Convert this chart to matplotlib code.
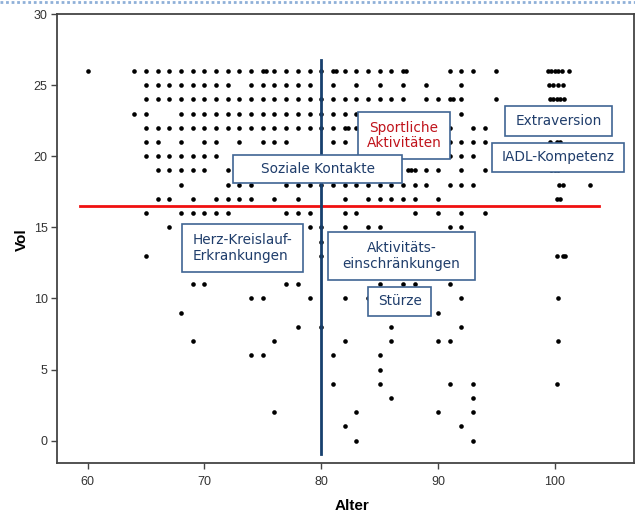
import matplotlib
matplotlib.use("Agg")
import matplotlib.pyplot as plt
from matplotlib.patches import Rectangle
from matplotlib.lines import Line2D

# Alter-Werte je Vol-Zeile
alter_v26 = [60, 64, 65, 66, 67, 68, 69, 70, 71, 72, 73, 74, 75, 75.3, 76, 77, 78, 79, 80, 81, 81.3,
             82, 83, 84, 85, 86, 87, 87.3, 91, 92, 93, 95, 99.4, 99.7, 100.0, 100.3, 100.6, 101.2]
alter_v25 = [65, 66, 67, 68, 69, 70, 71, 72, 74, 75, 76, 77, 78, 79, 81, 83, 85, 87, 89, 92,
             99.5, 99.9, 100.3, 100.7]
alter_v24 = [65, 66, 67, 68, 69, 70, 71, 72, 73, 74, 75, 76, 77, 78, 79, 80, 81, 82, 83, 84, 85, 86, 87,
             89, 90, 91, 91.3, 92, 95, 99.6, 99.9, 100.2, 100.5, 100.8]
alter_v23 = [64, 65, 68, 69, 70, 71, 72, 73, 74, 75, 76, 77, 78, 79, 80, 81, 82, 83, 92]
alter_v22 = [65, 66, 67, 68, 69, 70, 71, 72, 73, 74, 75, 76, 77, 78, 79, 80, 81, 82, 82.3, 83, 91, 93, 94]
alter_v21 = [65, 66, 68, 70, 71, 73, 75, 76, 77, 81, 82, 91, 92, 93, 94, 99.6, 100.2, 100.5]
alter_v20 = [65, 66, 67, 68, 69, 70, 71, 91, 92, 93]
alter_v19 = [66, 67, 68, 69, 70, 72, 87.4, 87.7, 88, 89, 90, 92, 94, 99.7, 100, 100.3]
alter_v18 = [68, 72, 73, 74, 77, 78, 79, 80, 81, 82, 83, 84, 85, 86, 87, 88, 89, 91, 92, 93,
             100.4, 100.7, 103]
alter_v17 = [66, 67, 69, 71, 72, 73, 74, 76, 78, 82, 84, 85, 86, 87, 88, 90, 100.2, 100.5]
alter_v16 = [65, 68, 69, 70, 71, 72, 77, 78, 79, 82, 83, 88, 90, 92, 94]
alter_v15 = [67, 79, 80, 82, 84, 85, 91, 92]
alter_v14 = [80]
alter_v13 = [65, 80, 100.2, 100.7, 100.9]
alter_v11 = [69, 70, 77, 78, 85, 87, 88, 91]
alter_v10 = [74, 75, 79, 82, 84, 92, 100.3]
alter_v9 = [68, 90]
alter_v8 = [78, 80, 86, 92]
alter_v7 = [69, 76, 82, 86, 90, 91, 100.3]
alter_v6 = [74, 75, 81, 85]
alter_v5 = [85]
alter_v4 = [81, 85, 91, 93, 100.2]
alter_v3 = [86, 93]
alter_v2 = [76, 83, 90, 93]
alter_v1 = [82, 92]
alter_v0 = [83, 93]

zeilen = {26: alter_v26, 25: alter_v25, 24: alter_v24, 23: alter_v23, 22: alter_v22,
          21: alter_v21, 20: alter_v20, 19: alter_v19, 18: alter_v18, 17: alter_v17,
          16: alter_v16, 15: alter_v15, 14: alter_v14, 13: alter_v13, 11: alter_v11,
          10: alter_v10, 9: alter_v9, 8: alter_v8, 7: alter_v7, 6: alter_v6, 5: alter_v5,
          4: alter_v4, 3: alter_v3, 2: alter_v2, 1: alter_v1, 0: alter_v0}

alter = []
vol = []
for v, ages in zeilen.items():
    alter += ages
    vol += [v] * len(ages)

mittel_vol = 16.5
mittel_alter = 80

# Kästchen: Text, Mitte (Alter, Vol), Breite, Höhe, Farbe, Ausrichtung
kaesten = [
    ("Sportliche\nAktivitäten", 87.1, 21.46, 7.9, 3.3, "#c0141c", "center"),
    ("Extraversion", 100.34, 22.48, 9.2, 2.07, "#1f3d6b", "center"),
    ("IADL-Kompetenz", 100.3, 19.92, 11.3, 2.04, "#1f3d6b", "center"),
    ("Soziale Kontakte", 79.69, 19.1, 14.5, 1.97, "#1f3d6b", "center"),
    ("Herz-Kreislauf-\nErkrankungen", 73.26, 13.55, 10.4, 3.38, "#1f3d6b", "left"),
    ("Aktivitäts-\neinschränkungen", 86.89, 12.99, 12.6, 3.38, "#1f3d6b", "center"),
    ("Stürze", 86.72, 9.79, 5.4, 2.04, "#1f3d6b", "center"),
]

fig = plt.figure(figsize=(6.35, 5.15), dpi=100)
ax = fig.add_axes([0.0904, 0.1004, 0.908, 0.8724])

ax.scatter(alter, vol, s=11, color="black", linewidths=0, zorder=2)

ax.plot([59.3, 103.8], [mittel_vol, mittel_vol], color="#f01010", lw=2, zorder=3)
ax.plot([mittel_alter, mittel_alter], [-0.93, 26.8], color="#17406e", lw=2, zorder=3)

for txt, cx, cy, w, h, col, ha in kaesten:
    ax.add_patch(Rectangle((cx - w / 2, cy - h / 2), w, h, facecolor="white",
                           edgecolor="#3f6594", lw=1.2, zorder=4))
    if ha == "left":
        ax.text(cx - w / 2 + 0.9, cy, txt, ha="left", va="center", color=col,
                fontsize=9.8, family="DejaVu Sans", zorder=5, linespacing=1.15)
    else:
        ax.text(cx, cy, txt, ha="center", va="center", color=col, multialignment="center",
                fontsize=9.8, family="DejaVu Sans", zorder=5, linespacing=1.15)

ax.set_xlim(57.4, 106.8)
ax.set_ylim(-1.59, 30)
ax.set_xticks([60, 70, 80, 90, 100])
ax.set_yticks([0, 5, 10, 15, 20, 25, 30])
ax.tick_params(direction="out", length=4, width=1, color="#444444", labelcolor="#333333",
               labelsize=9, pad=3)
ax.tick_params(axis="x", pad=5)
for lab in ax.get_xticklabels() + ax.get_yticklabels():
    lab.set_family("Liberation Sans")
for sp in ax.spines.values():
    sp.set_color("#444444")
    sp.set_linewidth(1.3)

ax.set_xlabel("Alter", fontsize=11, fontweight="bold", family="Liberation Sans")
ax.set_ylabel("Vol", fontsize=11, fontweight="bold", family="Liberation Sans")
ax.xaxis.set_label_coords(0.511, -0.08)
ax.yaxis.set_label_coords(-0.05, 0.497)

# gepunkteter Rahmen oben
fig.add_artist(Line2D([0, 1], [0.997, 0.997], transform=fig.transFigure,
                      color="#8fb0d8", lw=2, linestyle=(0, (1, 1))))

fig.savefig("out.png", dpi=100)
